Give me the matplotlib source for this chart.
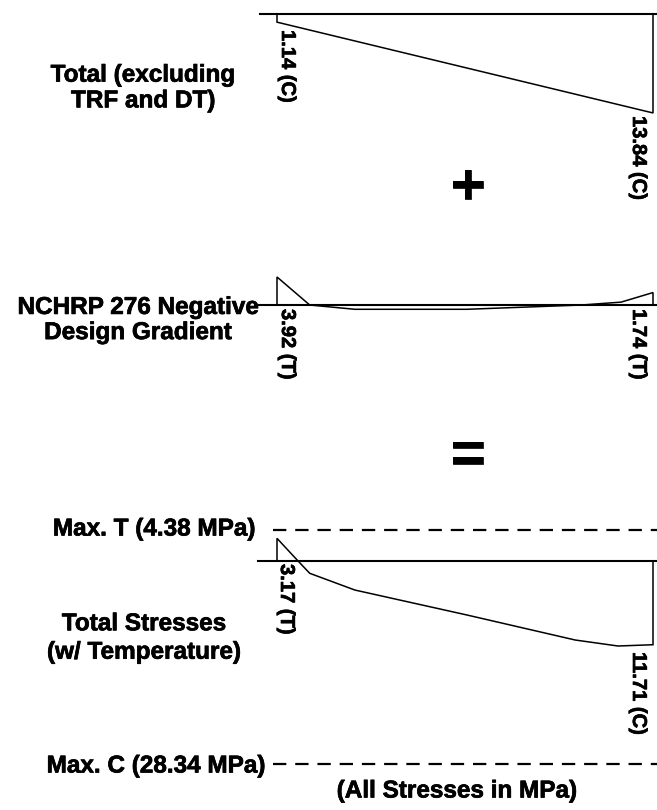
import numpy as np
import matplotlib
matplotlib.use("Agg")
import matplotlib.pyplot as plt
import matplotlib.patheffects as pe

plt.rcParams['font.family'] = ['Liberation Sans', 'DejaVu Sans']
plt.rcParams['font.weight'] = 'bold'

# depth along the section (0 = top, 1 = bottom) and stress in MPa (+ = tension)
depth_total = [0.0, 1.0]
stress_total = [-1.14, -13.84]

depth_grad = [0.0, 0.087, 0.207, 0.505, 0.81, 0.915, 1.0]
stress_grad = [3.92, 0.0, -0.6, -0.6, 0.0, 0.4, 1.74]

depth_sum = [0.0, 0.056, 0.087, 0.207, 0.505, 0.793, 0.907, 1.0]
stress_sum = [3.17, 0.0, -1.72, -4.06, -7.55, -11.05, -11.89, -11.71]

max_tension = 4.38
max_compression = -28.34

W, H = 657, 810
S = 7.15            # px per MPa
X0, XW = 277, 376   # px of depth 0 and width of depth 0..1

fig = plt.figure(figsize=(W / 100, H / 100), dpi=100)
heavy = [pe.withStroke(linewidth=0.5, foreground='black')]


def px_to_d(px):
    return (px - X0) / XW


def add_panel(base_px, above=45, below=230):
    ax = fig.add_axes([0, 1 - (base_px + below) / H, 1, (above + below) / H])
    ax.set_xlim(px_to_d(0), px_to_d(W))
    ax.set_ylim(-below / S, above / S)
    ax.axis('off')
    ax.patch.set_visible(False)
    return ax


def draw_profile(ax, depth, stress, start_px):
    x = [depth[0]] + list(depth) + [depth[-1]]
    y = [0] + list(stress) + [0]
    ax.plot(x, y, color='black', lw=1.1, solid_joinstyle='miter')
    ax.plot([px_to_d(start_px), px_to_d(W)], [0, 0], color='black', lw=1.5)


def tag(v):
    return f"{abs(v):.2f} ({'T' if v > 0 else 'C'})"


def ftext(x, y, s, **kw):
    fig.text(x / W, 1 - y / H, s, path_effects=heavy, **kw)


# panel 1
ax1 = add_panel(14)
draw_profile(ax1, depth_total, stress_total, 260)
# panel 2
ax2 = add_panel(305)
draw_profile(ax2, depth_grad, stress_grad, 255)
# panel 3
ax3 = add_panel(561)
draw_profile(ax3, depth_sum, stress_sum, 258)
for lim in [max_tension, max_compression]:
    ax3.plot([px_to_d(273), px_to_d(W)], [lim, lim], color='black', lw=1.6,
             dashes=(6, 4))

big = dict(fontsize=17.5, fontweight='bold', ha='center', va='center')
ftext(143, 88, "Total (excluding\nTRF and DT)", linespacing=1.15, **big)
ftext(138, 320, "NCHRP 276 Negative\nDesign Gradient", linespacing=1.12, **big)
ftext(144, 638, "Total Stresses\n(w/ Temperature)", linespacing=1.3, **big)
ftext(255, 529, f"Max. T ({max_tension:.2f} MPa)", fontsize=17.5, fontweight='bold',
      ha='right', va='center')
ftext(265, 766, f"Max. C ({abs(max_compression):.2f} MPa)", fontsize=17.5,
      fontweight='bold', ha='right', va='center')
ftext(457, 791, "(All Stresses in MPa)", **big)
ftext(468, 189, "+", fontsize=42, fontweight='heavy', ha='center', va='center')
ftext(468, 457, "=", fontsize=42, fontweight='heavy', ha='center', va='center')

small = dict(fontsize=14.5, fontweight='bold', rotation=-90)
ftext(278, 30, tag(stress_total[0]), ha='left', va='top', **small)
ftext(648, 116, tag(stress_total[-1]), ha='right', va='top', **small)
ftext(278, 309, tag(stress_grad[0]), ha='left', va='top', **small)
ftext(648, 309, tag(stress_grad[-1]), ha='right', va='top', **small)
ftext(277, 564, tag(stress_sum[0]), ha='left', va='top', **small)
ftext(648, 652, tag(stress_sum[-1]), ha='right', va='top', **small)

fig.savefig("out.png", dpi=100, facecolor='white')
